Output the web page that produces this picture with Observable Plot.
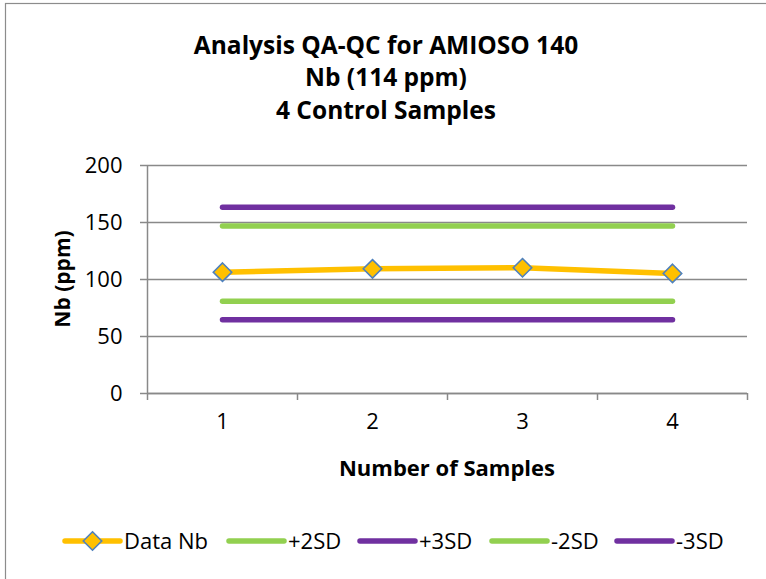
<!DOCTYPE html>
<html>
<head>
<meta charset="utf-8">
<script src="https://cdn.jsdelivr.net/npm/d3@7"></script>
<script src="https://cdn.jsdelivr.net/npm/@observablehq/plot@0.6"></script>
<style>
  html, body { margin: 0; padding: 0; background: #fff; }
  #chart svg { display: block; }
</style>
</head>
<body>
<div id="chart"></div>
<script>
// Nb control-sample results and the ±2SD / ±3SD limits (ppm)
const samples = [1, 2, 3, 4];
const dataNb = [106.4, 109.4, 110.3, 105.3];
const plus2SD = [146.9, 146.9, 146.9, 146.9];
const plus3SD = [163.3, 163.3, 163.3, 163.3];
const minus2SD = [80.9, 80.9, 80.9, 80.9];
const minus3SD = [64.6, 64.6, 64.6, 64.6];
const yTicks = [0, 50, 100, 150, 200];
const seriesNames = ["Data Nb", "+2SD", "+3SD", "-2SD", "-3SD"];
const seriesColors = ["#FFC000", "#92D050", "#7030A0", "#92D050", "#7030A0"];
const titleLines = ["Analysis QA-QC for AMIOSO 140", "Nb (114 ppm)", "4 Control Samples"];
const xTitle = "Number of Samples";
const yTitle = "Nb (ppm)";

const rows = values => samples.map((s, i) => ({sample: s, value: values[i]}));
const seriesValues = [dataNb, plus2SD, plus3SD, minus2SD, minus3SD];

const axisGray = "#898989";
const font = "Open Sans";
const lineWidth = 5.5;

// category boundaries for the x tick marks
const bounds = [...samples.map(s => s - 0.5), samples[samples.length - 1] + 0.5];

const limitMarks = seriesValues.slice(1).map((vals, k) =>
  Plot.line(rows(vals), {
    x: "sample", y: "value",
    stroke: seriesColors[k + 1], strokeWidth: lineWidth,
    strokeLinecap: "round", strokeLinejoin: "round"
  })
);

const chart = Plot.plot({
  width: 766,
  height: 579,
  marginLeft: 147,
  marginRight: 19,
  marginTop: 165,
  marginBottom: 186,
  style: {fontFamily: font, fontSize: "22px", color: "#000", background: "#fff"},
  x: {type: "linear", domain: [bounds[0], bounds[bounds.length - 1]], axis: null},
  y: {domain: [0, 200], axis: null},
  marks: [
    Plot.gridY(yTicks, {stroke: axisGray, strokeOpacity: 1, strokeWidth: 1.5}),
    Plot.ruleX([bounds[0]], {stroke: axisGray, strokeWidth: 1.5}),
    Plot.ruleY([0], {stroke: axisGray, strokeWidth: 1.5}),
    // y tick marks and labels
    Plot.tickY(yTicks, {y: d => d, stroke: axisGray, strokeWidth: 1.5}),
    Plot.text(yTicks, {y: d => d, frameAnchor: "left", dx: -25, textAnchor: "end",
      fontSize: 22, fill: "#000"}),
    // x tick marks at the category boundaries
    Plot.tickX(bounds, {x: d => d, stroke: axisGray, strokeWidth: 1.5}),
    Plot.text(samples, {x: d => d, frameAnchor: "bottom", dy: 35, fontSize: 22, fill: "#000"}),
    Plot.line(rows(dataNb), {
      x: "sample", y: "value", stroke: seriesColors[0], strokeWidth: lineWidth,
      strokeLinecap: "round", strokeLinejoin: "round"
    }),
    ...limitMarks,
    Plot.dot(rows(dataNb), {
      x: "sample", y: "value", symbol: "diamond2", r: 8.3,
      fill: seriesColors[0], stroke: "#4F81BD", strokeWidth: 1.6
    })
  ]
});

document.getElementById("chart").appendChild(chart);

const svg = d3.select(chart);

// tick marks: Plot's tick marks span the frame, so trim them to short stubs
svg.selectAll("g[aria-label='tick'] line").each(function () {
  const el = d3.select(this);
  const x1 = +el.attr("x1"), x2 = +el.attr("x2"), y1 = +el.attr("y1"), y2 = +el.attr("y2");
  if (y1 === y2) {            // horizontal y-axis tick
    const left = Math.min(x1, x2);
    el.attr("x1", left - 7).attr("x2", left);
  } else {                    // vertical x-axis tick
    const bottom = Math.max(y1, y2);
    el.attr("y1", bottom).attr("y2", bottom + 7);
  }
});

// chart-area border
svg.insert("rect", ":first-child")
  .attr("x", 5.5).attr("y", 3.5).attr("width", 800).attr("height", 620)
  .attr("fill", "none").attr("stroke", "#8c8c8c").attr("stroke-width", 1.2);

// title
const title = svg.append("g").attr("font-family", font).attr("font-weight", "bold")
  .attr("font-size", 24.5).attr("text-anchor", "middle").attr("fill", "#000");
titleLines.forEach((t, i) => {
  title.append("text").attr("x", 386).attr("y", 53.5 + i * 32.5).text(t);
});

// axis titles
svg.append("text").attr("x", 447).attr("y", 476)
  .attr("font-family", font).attr("font-weight", "bold").attr("font-size", 22)
  .attr("text-anchor", "middle").attr("fill", "#000").text(xTitle);
svg.append("text")
  .attr("transform", "translate(70,279) rotate(-90)")
  .attr("font-family", font).attr("font-weight", "bold").attr("font-size", 21)
  .attr("text-anchor", "middle").attr("fill", "#000").text(yTitle);

// legend
const legendStarts = [65, 229, 360, 492, 617];
const legendY = 541;
const legend = svg.append("g").attr("font-family", font).attr("font-size", 22)
  .attr("text-anchor", "start").attr("fill", "#000");
seriesNames.forEach((name, i) => {
  const x0 = legendStarts[i], x1 = x0 + 55;
  legend.append("line").attr("x1", x0).attr("x2", x1).attr("y1", legendY).attr("y2", legendY)
    .attr("stroke", seriesColors[i]).attr("stroke-width", lineWidth).attr("stroke-linecap", "round");
  if (i === 0) {
    legend.append("path")
      .attr("d", d3.symbol(d3.symbolDiamond2, Math.PI * 8.3 * 8.3)())
      .attr("transform", `translate(${(x0 + x1) / 2},${legendY})`)
      .attr("fill", seriesColors[0]).attr("stroke", "#4F81BD").attr("stroke-width", 1.6);
  }
  legend.append("text").attr("x", x1 + 4).attr("y", legendY).attr("dy", "0.35em").text(name);
});
</script>
</body>
</html>
